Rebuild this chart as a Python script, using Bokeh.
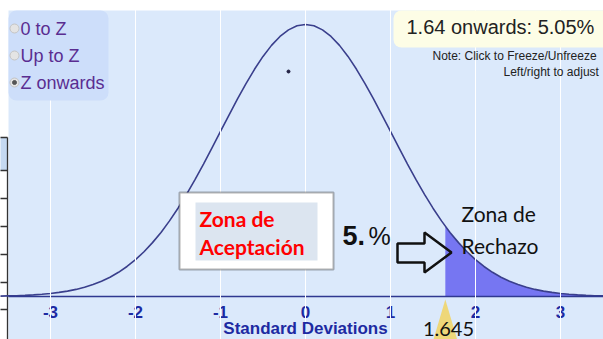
from bokeh.plotting import figure
from bokeh.models import Label, BoxAnnotation, FixedTicker
from bokeh.core.properties import value
from bokeh.embed import file_html
from bokeh.resources import INLINE

# ---- data ----
curve_x = [-3.6, -3.5, -3.4, -3.3, -3.2, -3.1, -3.0, -2.9, -2.8, -2.7, -2.6, -2.5, -2.4, -2.3, -2.2, -2.1,
           -2.0, -1.9, -1.8, -1.7, -1.6, -1.5, -1.4, -1.3, -1.2, -1.1, -1.0, -0.9, -0.8, -0.7, -0.6,
           -0.5, -0.4, -0.3, -0.2, -0.1, 0.0, 0.1, 0.2, 0.3, 0.4, 0.5, 0.6, 0.7, 0.8, 0.9, 1.0, 1.1,
           1.2, 1.3, 1.4, 1.5, 1.6, 1.7, 1.8, 1.9, 2.0, 2.1, 2.2, 2.3, 2.4, 2.5, 2.6, 2.7, 2.8, 2.9,
           3.0, 3.1, 3.2, 3.3, 3.4, 3.5, 3.6]
curve_y = [0.0006, 0.0009, 0.0012, 0.0017, 0.0024, 0.0033, 0.0044, 0.0060, 0.0079, 0.0104, 0.0136, 0.0175,
           0.0224, 0.0283, 0.0355, 0.0440, 0.0540, 0.0656, 0.0790, 0.0940, 0.1109, 0.1295, 0.1497,
           0.1714, 0.1942, 0.2179, 0.2420, 0.2661, 0.2897, 0.3123, 0.3332, 0.3521, 0.3683, 0.3814,
           0.3910, 0.3970, 0.3989, 0.3970, 0.3910, 0.3814, 0.3683, 0.3521, 0.3332, 0.3123, 0.2897,
           0.2661, 0.2420, 0.2179, 0.1942, 0.1714, 0.1497, 0.1295, 0.1109, 0.0940, 0.0790, 0.0656,
           0.0540, 0.0440, 0.0355, 0.0283, 0.0224, 0.0175, 0.0136, 0.0104, 0.0079, 0.0060, 0.0044,
           0.0033, 0.0024, 0.0017, 0.0012, 0.0009, 0.0006]
z_cut = 1.645
z_cut_density = 0.1031
tick_values = [-3, -2, -1, 0, 1, 2, 3]
tick_labels = ["-3", "-2", "-1", "0", "1", "2", "3"]
radio_options = ["0 to Z", "Up to Z", "Z onwards"]
result_text = "1.64 onwards: 5.05%"

# ---- layout helpers (picture pixel -> data) ----
W, H = 603, 339
PX_X = 85.0                  # px per standard deviation
PX_Y = 272.0 / 0.3989        # px per density unit
ZERO_PX, BASE_PY = 305.0, 296.0
X0, X1 = (0 - ZERO_PX) / PX_X, (W - ZERO_PX) / PX_X
Y0, Y1 = -(H - BASE_PY) / PX_Y, BASE_PY / PX_Y


def X(px):
    return (px - ZERO_PX) / PX_X


def Y(py):
    return (BASE_PY - py) / PX_Y


def label(px, py, text, font="Liberation Sans", size="17px", color="#111111",
          style="normal", align="left"):
    p.add_layout(Label(x=X(px), y=Y(py), text=text, text_font=font, text_font_size=size,
                       text_color=color, text_font_style=style, text_align=align,
                       text_baseline="middle"))


p = figure(width=W, height=H, x_range=(X0, X1), y_range=(Y0, Y1),
           output_backend="svg", toolbar_location=None, min_border=0)
p.xaxis.visible = False
p.yaxis.visible = False
p.outline_line_color = None
p.background_fill_color = "white"
p.border_fill_color = "white"
p.ygrid.visible = False
p.xgrid.ticker = FixedTicker(ticks=tick_values)
p.xgrid.grid_line_color = "white"
p.xgrid.grid_line_width = 1
p.xgrid.level = "guide"

# light blue chart area
p.add_layout(BoxAnnotation(left=X(8), right=X(W + 5), top=Y(10), bottom=Y(H + 5),
                           fill_color="#dbe9fb", fill_alpha=1, line_color=None, level="underlay"))

# table sliver at the left edge
p.add_layout(BoxAnnotation(left=X(-5), right=X(7), top=Y(137), bottom=Y(170),
                           fill_color="#c5d9f1", fill_alpha=1, line_color=None, level="underlay"))
table_rows_py = [137, 170, 198, 226, 254, 282, 309]
p.multi_line([[X(-2), X(7)] for _ in table_rows_py], [[Y(v), Y(v)] for v in table_rows_py],
             line_color="#333333", line_width=1.3)
p.line([X(7), X(7)], [Y(137), Y(H + 5)], line_color="#333333", line_width=1.3)

# shaded tail
shade_x = [z_cut] + [x for x in curve_x if x > z_cut]
shade_y = [z_cut_density] + [y for x, y in zip(curve_x, curve_y) if x > z_cut]
p.varea(x=shade_x, y1=[0] * len(shade_x), y2=shade_y, fill_color="#7676f2", fill_alpha=1)

# curve and baseline
p.line(curve_x, curve_y, line_color="#3a3f8c", line_width=1.6)
p.line([X(8), X(W + 5)], [0, 0], line_color="#2f3890", line_width=1.6)

# tiny dot
p.scatter([X(288)], [Y(71)], size=3, color="#222244")

# tick labels
p.text(x=tick_values, y=[Y(311)] * len(tick_values), text=tick_labels,
       text_font=value("Liberation Sans"), text_font_style="bold", text_font_size="17px",
       text_color="#1d2aa2", text_align="center", text_baseline="middle")
label(ZERO_PX, 328, "Standard Deviations", size="17px", color="#1d2aa2", style="bold",
      align="center")

# yellow marker + value
p.patch([z_cut, z_cut - 0.16, z_cut + 0.16], [Y(299), Y(345), Y(345)],
        fill_color="#efd56a", line_color=None, fill_alpha=0.9)
label(448, 328, "1.645", font="Lato", size="20px", align="center")

# radio panel
p.add_layout(BoxAnnotation(left=X(8), right=X(108), top=Y(10), bottom=Y(100),
                           fill_color="#cddefa", fill_alpha=1, line_color=None, border_radius=8))
radio_py = [28, 55, 82]
p.scatter([X(14)] * 3, [Y(v) for v in radio_py], size=9, fill_color="#e4e4e4",
          line_color="#c4c4c4", level="overlay")
p.scatter([X(14)], [Y(82)], size=4, color="#555555", level="overlay")
for t, py in zip(radio_options, radio_py):
    label(20, py, t, size="18px", color="#5a2d91")

# result box
p.add_layout(BoxAnnotation(left=X(393), right=X(640), top=Y(10), bottom=Y(47),
                           fill_color="#fdfde6", fill_alpha=1, line_color=None, border_radius=8))
label(406, 26, result_text, size="20px", color="#222222")
label(432, 55, "Note: Click to Freeze/Unfreeze", size="12px", color="#222222")
label(503, 71, "Left/right to adjust", size="12px", color="#222222")

# acceptance box
p.add_layout(BoxAnnotation(left=X(179), right=X(333), top=Y(192), bottom=Y(269),
                           fill_color="white", fill_alpha=1, line_color="black", line_width=2))
p.add_layout(BoxAnnotation(left=X(195), right=X(317), top=Y(202), bottom=Y(260),
                           fill_color="#dce5f0", fill_alpha=1, line_color=None))
label(199, 218, "Zona de", font="Lato", size="21px", color="#ff0000", style="bold")
label(199, 246, "Aceptación", font="Lato", size="21px", color="#ff0000", style="bold")

# 5.% and arrow
label(342, 235, "5.", size="27px", style="bold")
label(368, 235, "%", size="25px")
arrow_px = [397, 424, 424, 451, 424, 424, 397]
arrow_py = [243, 243, 232, 252, 272, 262, 262]
p.patch([X(v) for v in arrow_px], [Y(v) for v in arrow_py], fill_color=None,
        line_color="#111111", line_width=2.5)

# rejection text
label(461, 213, "Zona de", font="Lato", size="21px")
label(461, 245, "Rechazo", font="Lato", size="21px")

open("out.html", "w").write(file_html(p, INLINE))
